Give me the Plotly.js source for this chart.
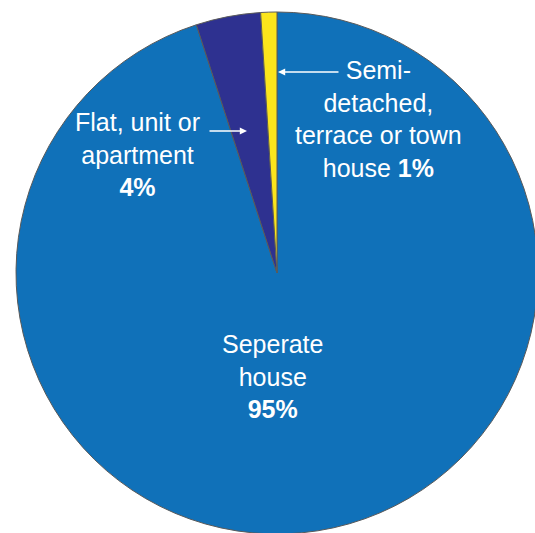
<!DOCTYPE html>
<html>
<head>
<meta charset="utf-8">
<script src="https://cdn.plot.ly/plotly-3.0.1.min.js"></script>
<style>
html, body { margin: 0; padding: 0; overflow: hidden; background: #ffffff; }
#chart { width: 560px; height: 540px; }
</style>
</head>
<body>
<div id="chart"></div>
<script>
// Data
const categories = ["Seperate house", "Flat, unit or apartment", "Semi-detached, terrace or town house"];
const values = [95, 4, 1];
const sliceColors = ["#1071B9", "#2E3190", "#FBE51C"];

const labelTexts = [
  "Seperate<br>house<br><b>95%</b>",
  "Flat, unit or<br>apartment<br><b>4%</b>",
  "Semi-<br>detached,<br>terrace or town<br>house <b>1%</b>"
];

const W = 560, H = 540;
const cx = 277, cy = 273, R = 261;
const px = x => x / W;
const py = y => 1 - y / H;

const labelPos = [[272, 376], [137, 155], [378, 119]];

const annotations = labelTexts.map((t, i) => ({
  xref: 'paper', yref: 'paper',
  x: px(labelPos[i][0]), y: py(labelPos[i][1]),
  xanchor: 'center', yanchor: 'middle',
  text: t, showarrow: false, align: 'center',
  font: { family: 'Liberation Sans, Arial, sans-serif', size: 25, color: '#ffffff' }
}));

// arrows: head position and tail offset
const arrows = [
  { head: [278, 72], ax: 62 },
  { head: [247, 131], ax: -39 }
];
arrows.forEach(a => annotations.push({
  xref: 'paper', yref: 'paper',
  x: px(a.head[0]), y: py(a.head[1]),
  ax: a.ax, ay: 0, text: '', showarrow: true,
  arrowhead: 2, arrowsize: 0.9, arrowwidth: 1.6, arrowcolor: '#ffffff'
}));

const trace = {
  type: 'pie',
  labels: categories,
  values: values,
  sort: false,
  direction: 'clockwise',
  rotation: 0,
  textinfo: 'none',
  hoverinfo: 'none',
  marker: { colors: sliceColors, line: { color: '#5a5a5a', width: 1 } },
  domain: { x: [(cx - R) / W, (cx + R) / W], y: [py(cy + R), py(cy - R)] }
};

const layout = {
  width: W, height: H,
  margin: { l: 0, r: 0, t: 0, b: 0, pad: 0 },
  paper_bgcolor: '#ffffff',
  showlegend: false,
  annotations: annotations
};

Plotly.newPlot('chart', [trace], layout, { displayModeBar: false, staticPlot: true });
</script>
</body>
</html>
